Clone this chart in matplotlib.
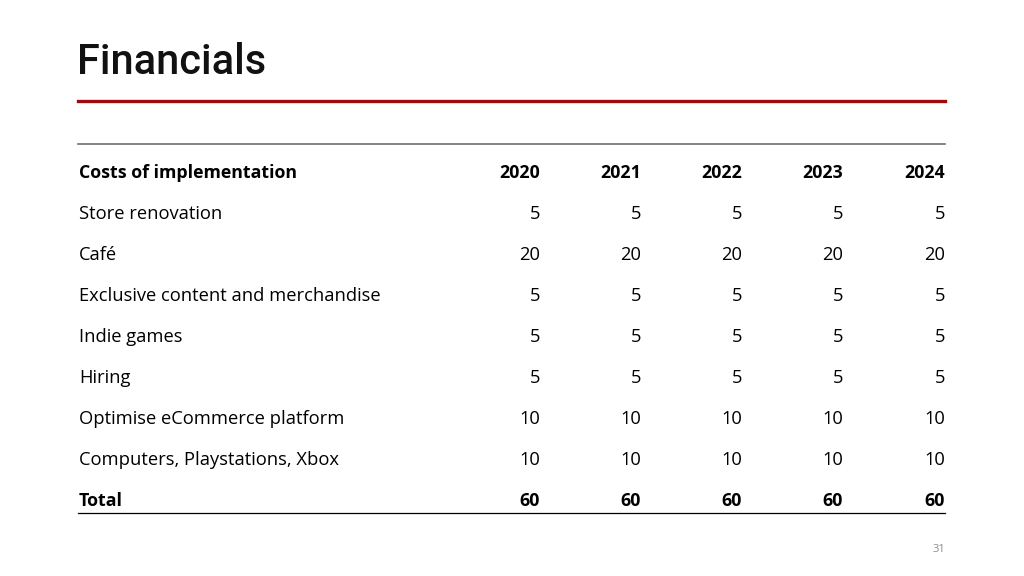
import matplotlib.pyplot as plt
from matplotlib.lines import Line2D

title = "Financials"
header = "Costs of implementation"
years = ["2020", "2021", "2022", "2023", "2024"]
items = ["Store renovation", "Café", "Exclusive content and merchandise",
         "Indie games", "Hiring", "Optimise eCommerce platform",
         "Computers, Playstations, Xbox"]
costs = [
    [5, 5, 5, 5, 5],
    [20, 20, 20, 20, 20],
    [5, 5, 5, 5, 5],
    [5, 5, 5, 5, 5],
    [5, 5, 5, 5, 5],
    [10, 10, 10, 10, 10],
    [10, 10, 10, 10, 10],
]
totals = [60, 60, 60, 60, 60]
page = "31"

W, H = 1024, 576
fig = plt.figure(figsize=(W / 100, H / 100), dpi=100)
ax = fig.add_axes([0, 0, 1, 1])
ax.set_xlim(0, W)
ax.set_ylim(H, 0)
ax.axis("off")

body = "Open Sans"
left, right = 79, 945
col_x = [540, 641, 742, 843, 945]
row0, step = 173, 41
fs, fsb = 13.2, 12.8

# title and rules
ax.text(77, 63, title, fontsize=30, fontweight="medium", family="Roboto",
        va="center", ha="left", color="#111111")
ax.add_line(Line2D([78, right], [101, 101], color="#9e0b0f", lw=2.4))
ax.add_line(Line2D([78, right], [144, 144], color="#707070", lw=1.2))

# header row
ax.text(left, row0, header, fontsize=fsb, fontweight="bold", family=body, va="center")
for x, y in zip(col_x, years):
    ax.text(x, row0, y, fontsize=fsb, fontweight="bold", family=body, va="center", ha="right")

# body rows
for i, (name, vals) in enumerate(zip(items, costs)):
    y = row0 + step * (i + 1)
    ax.text(left, y, name, fontsize=fs, family=body, va="center")
    for x, v in zip(col_x, vals):
        ax.text(x, y, str(v), fontsize=fs, family=body, va="center", ha="right")

# total row
y = row0 + step * (len(items) + 1)
ax.text(left, y, "Total", fontsize=fsb, fontweight="bold", family=body, va="center")
for x, v in zip(col_x, totals):
    ax.text(x, y, str(v), fontsize=fsb, fontweight="bold", family=body, va="center", ha="right")
ax.add_line(Line2D([78, right], [513, 513], color="black", lw=0.9))

ax.text(right, 549, page, fontsize=8, family=body, color="#8c8c8c", va="center", ha="right")

fig.savefig("out.png", dpi=100)
